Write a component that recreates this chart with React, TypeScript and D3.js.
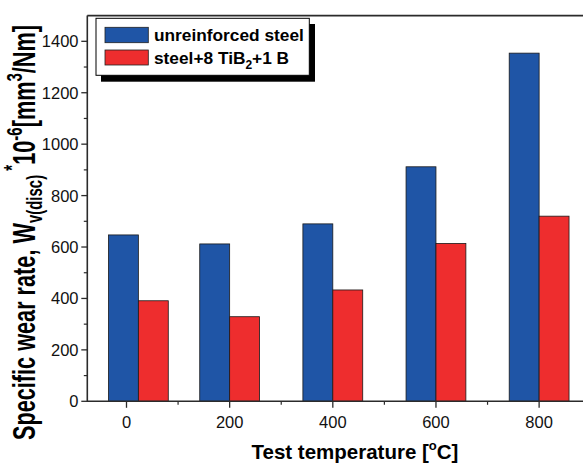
import React, { useEffect } from "react";
import * as d3 from "d3";

const temperatures = [23, 200, 400, 600, 800];
const unreinforced = [647, 612, 690, 912, 1354];
const reinforced = [391, 329, 433, 614, 720];
const xMajorTicks = [0, 200, 400, 600, 800];
const xMinorTicks = [100, 300, 500, 700];
const yMajorTicks = [0, 200, 400, 600, 800, 1000, 1200, 1400];
const yMinorTicks = [100, 300, 500, 700, 900, 1100, 1300];
const seriesNames = ["unreinforced steel", "steel+8 TiB", "2", "+1 B"];

const W = 583;
const H = 467;
const FONT = "'Liberation Sans', Arial, sans-serif";
const BLUE = "#1f55a6";
const RED = "#ee2d2e";
const AXIS = "#2b2b2b";

export default function App() {
  useEffect(() => {
    document.body.style.margin = "0";
  }, []);

  const x = d3.scaleLinear().domain([-76, 900]).range([87.3, 590.7]);
  const y = d3.scaleLinear().domain([0, 1500]).range([401.3, 15.6]);
  const barW = x(58) - x(0);
  const x0 = x.range()[0];
  const y0 = y(0);
  const yTop = y(1500);

  return (
    <svg width={W} height={H} style={{ display: "block" }} fontFamily={FONT}>
      <rect x={0} y={0} width={W} height={H} fill="#fff" />
      {/* bars */}
      {temperatures.map((t, i) => (
        <g key={t}>
          <rect
            x={x(t) - barW}
            y={y(unreinforced[i])}
            width={barW}
            height={y0 - y(unreinforced[i])}
            fill={BLUE}
            stroke="#1a1a1a"
            strokeWidth={0.8}
          />
          <rect
            x={x(t)}
            y={y(reinforced[i])}
            width={barW}
            height={y0 - y(reinforced[i])}
            fill={RED}
            stroke="#1a1a1a"
            strokeWidth={0.8}
          />
        </g>
      ))}
      {/* axes */}
      <line x1={x0} x2={W} y1={y0} y2={y0} stroke={AXIS} strokeWidth={1.6} />
      <line x1={x0} x2={W} y1={yTop} y2={yTop} stroke={AXIS} strokeWidth={1.6} />
      <line x1={x0} x2={x0} y1={yTop} y2={y0 + 0.8} stroke={AXIS} strokeWidth={1.6} />
      {yMajorTicks.map((v) => (
        <g key={"ym" + v}>
          <line x1={x0 - 6} x2={x0} y1={y(v)} y2={y(v)} stroke={AXIS} strokeWidth={1.3} />
          <text x={78.5} y={y(v)} dy="0.36em" textAnchor="end" fontSize={16.5} fill="#111">
            {v}
          </text>
        </g>
      ))}
      {yMinorTicks.map((v) => (
        <line key={"yn" + v} x1={x0 - 3.5} x2={x0} y1={y(v)} y2={y(v)} stroke={AXIS} strokeWidth={1.2} />
      ))}
      {xMajorTicks.map((v) => (
        <g key={"xm" + v}>
          <line x1={x(v)} x2={x(v)} y1={y0} y2={y0 + 6.5} stroke={AXIS} strokeWidth={1.3} />
          <text x={x(v)} y={428.3} textAnchor="middle" fontSize={16.5} fill="#111">
            {v}
          </text>
        </g>
      ))}
      {xMinorTicks.map((v) => (
        <line key={"xn" + v} x1={x(v)} x2={x(v)} y1={y0} y2={y0 + 3.5} stroke={AXIS} strokeWidth={1.2} />
      ))}
      {/* x title */}
      <text x={251.5} y={459} fontSize={20.5} fontWeight="bold" fill="#000">
        Test temperature [
        <tspan fontSize={13} dy={-9}>o</tspan>
        <tspan dy={9}>C]</tspan>
      </text>
      {/* y title */}
      <g transform="translate(35,440) rotate(-90) scale(1,1.42)">
        <text x={0} y={0} fontSize={21.7} fontWeight="bold" fill="#000">
          Specific wear rate, W
          <tspan fontSize={15} dy={5}>v(disc)</tspan>
          <tspan fontSize={15} dy={-16}> *</tspan>
          <tspan fontSize={21.7} dy={11}>10</tspan>
          <tspan fontSize={15} dy={-9}>-6</tspan>
          <tspan fontSize={21.7} dy={9}>[mm</tspan>
          <tspan fontSize={15} dy={-9}>3</tspan>
          <tspan fontSize={21.7} dy={9}>/Nm]</tspan>
        </text>
      </g>
      {/* legend */}
      <rect x={101} y={24} width={214} height={57.7} fill="#000" />
      <rect x={96} y={18.3} width={213.3} height={57} fill="#fff" stroke="#000" strokeWidth={1} />
      <rect x={105} y={27.3} width={43.3} height={15.4} fill={BLUE} stroke="#222" strokeWidth={0.8} />
      <rect x={105} y={50} width={43.3} height={15} fill={RED} stroke="#222" strokeWidth={0.8} />
      <text x={154} y={40.5} fontSize={17.3} fontWeight="bold" fill="#000">
        {seriesNames[0]}
      </text>
      <text x={154} y={63.5} fontSize={17.3} fontWeight="bold" fill="#000">
        {seriesNames[1]}
        <tspan fontSize={12} dy={5}>{seriesNames[2]}</tspan>
        <tspan dy={-5}>{seriesNames[3]}</tspan>
      </text>
    </svg>
  );
}
